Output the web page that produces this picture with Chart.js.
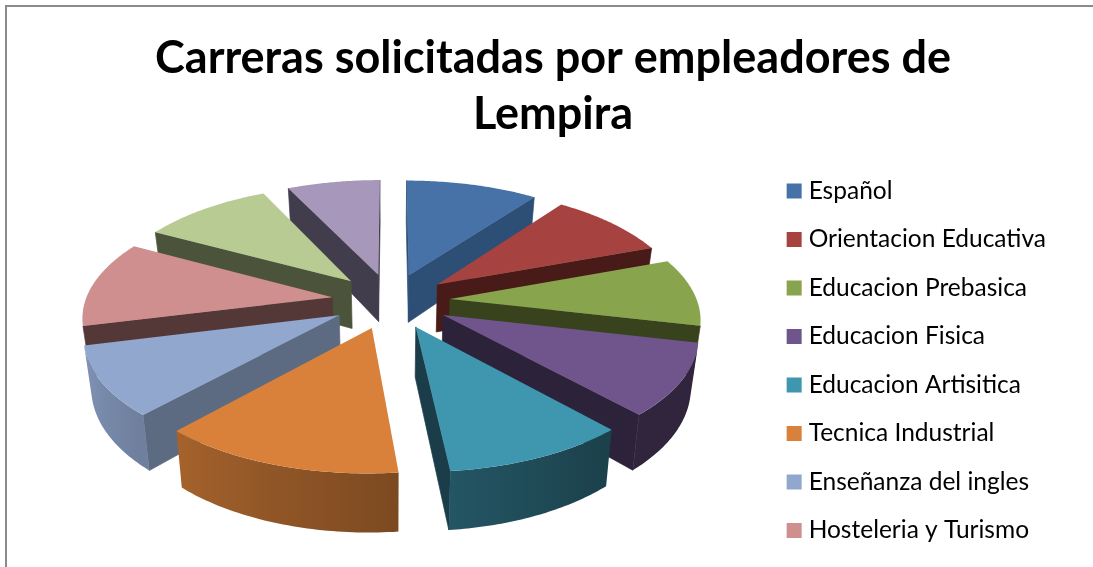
<!DOCTYPE html>
<html><head><meta charset="utf-8">
<style>html,body{margin:0;padding:0;background:#fff;overflow:hidden}canvas{display:block}</style>
<script src="https://cdn.jsdelivr.net/npm/chart.js@4"></script></head>
<body><canvas id="c" width="1093" height="567"></canvas>
<script>
const titleLines = ["Carreras solicitadas por empleadores de", "Lempira"];
const categories = ["Español","Orientacion Educativa","Educacion Prebasica","Educacion Fisica","Educacion Artisitica","Tecnica Industrial","Enseñanza del ingles","Hosteleria y Turismo","",""];
const values = [10.1,9.3,9.2,9.7,10.1,13.3,9.4,11.8,10,7.1];
const topColors = ["#4672A8","#A64340","#88A44C","#70558D","#3F96AF","#D9813A","#91A7CE","#CE8F8E","#B8CB92","#A797BB"];
const sideColors = ["#2D4F76","#481B18","#38421C","#2C223A","#1B3D49","#73461D","#5C6B82","#543838","#4B533A","#423D4D"];

const RADIUS = 200, OFFSET = 192;
const view = {dx:-18, dy:-60, A:247, B:115.4, p:0.146, depth:48.5, shrink:0.975};

function shade(hex, f){
  const n = parseInt(hex.slice(1),16);
  const c = s => Math.round(((n>>s)&255)*f);
  return `rgb(${c(16)},${c(8)},${c(0)})`;
}
function wallFactor(deg){
  const t = Math.min(1, Math.max(0,(deg-140)/116));
  return 0.43 + 0.47*t;
}
const pie3d = {
  id:'pie3d',
  beforeDatasetDraw(chart, args){
    const ctx = chart.ctx, meta = args.meta;
    const project = (el,u,v,low) => {
      const w = 1 - view.p*v, cx = el.x+view.dx, cy = el.y+view.dy;
      let X = view.A*u/w, Y = view.B*v/w;
      if(low){ X *= view.shrink; Y += view.depth/w; }
      return [cx+X, cy+Y];
    };
    const slices = meta.data.map((el,i)=>{
      const R = el.outerRadius, mid = (el.startAngle+el.endAngle)/2;
      const d = (el.options.offset/4)/R;
      const ox = d*Math.cos(mid), oy = d*Math.sin(mid);
      const n = 48, rim = [];
      for(let k=0;k<=n;k++){
        const a = el.startAngle+(el.endAngle-el.startAngle)*k/n;
        rim.push({a,u:ox+Math.cos(a),v:oy+Math.sin(a)});
      }
      return {el,i,ox,oy,rim,depth:oy+Math.sin(mid)*0.6};
    }).sort((s,t)=>s.depth-t.depth);
    const corners = (el,P,Q)=>[project(el,P.u,P.v,false),project(el,Q.u,Q.v,false),project(el,Q.u,Q.v,true),project(el,P.u,P.v,true)];
    const faces = pts=>{
      let area=0;
      pts.forEach((p,j)=>{const q=pts[(j+1)%pts.length];area+=p[0]*q[1]-q[0]*p[1];});
      return area<0;
    };
    const radial = (el,P,Q,fill)=>{
      const pts=corners(el,P,Q);
      if(!faces(pts)) return;
      ctx.beginPath();
      pts.forEach((p,j)=>j?ctx.lineTo(p[0],p[1]):ctx.moveTo(p[0],p[1]));
      ctx.closePath();
      ctx.fillStyle=fill;ctx.strokeStyle=fill;ctx.lineWidth=0.7;
      ctx.fill();ctx.stroke();
    };
    const rimWall = (s)=>{
      const top=s.el.options.backgroundColor;
      let run=[];
      const flush=()=>{
        if(run.length<2){run=[];return;}
        const upper=run.map(r=>project(s.el,r.u,r.v,false));
        const lower=run.map(r=>project(s.el,r.u,r.v,true));
        const xs=upper.map(p=>p[0]);
        const x0=Math.min(...xs),x1=Math.max(...xs);
        const g=ctx.createLinearGradient(x0,0,x1,0);
        run.forEach((r,j)=>{
          const deg=((r.a+Math.PI/2)*180/Math.PI+360)%360;
          g.addColorStop(Math.min(1,Math.max(0,(xs[j]-x0)/Math.max(1,x1-x0))),shade(top,wallFactor(deg)));
        });
        ctx.beginPath();
        upper.forEach((p,j)=>j?ctx.lineTo(p[0],p[1]):ctx.moveTo(p[0],p[1]));
        lower.reverse().forEach(p=>ctx.lineTo(p[0],p[1]));
        ctx.closePath();
        ctx.fillStyle=g;ctx.fill();
        run=[];
      };
      for(let k=0;k<s.rim.length-1;k++){
        if(faces(corners(s.el,s.rim[k],s.rim[k+1]))){
          if(!run.length) run.push(s.rim[k]);
          run.push(s.rim[k+1]);
        } else flush();
      }
      flush();
    };
    ctx.save();
    slices.forEach(s=>{
      const apex={u:s.ox,v:s.oy}, side=sideColors[s.i];
      radial(s.el,apex,s.rim[0],side);
      radial(s.el,s.rim[s.rim.length-1],apex,side);
      rimWall(s);
    });
    slices.forEach(s=>{
      ctx.beginPath();
      const a=project(s.el,s.ox,s.oy,false);
      ctx.moveTo(a[0],a[1]);
      s.rim.forEach(r=>{const p=project(s.el,r.u,r.v,false);ctx.lineTo(p[0],p[1]);});
      ctx.closePath();
      ctx.fillStyle=s.el.options.backgroundColor;
      ctx.fill();
    });
    ctx.restore();
    return false;
  }
};
const frame = {
  id:'frame',
  beforeDraw(chart){
    const ctx=chart.ctx;
    ctx.save();
    ctx.fillStyle='#fff';ctx.fillRect(0,0,chart.width,chart.height);
    ctx.strokeStyle='#8a8a8a';ctx.lineWidth=2;
    ctx.beginPath();ctx.moveTo(6,chart.height);ctx.lineTo(6,6);ctx.lineTo(chart.width,6);ctx.stroke();
    ctx.restore();
  }
};
new Chart(document.getElementById('c'),{
  type:'pie',
  data:{labels:categories,datasets:[{data:values,backgroundColor:topColors,borderWidth:0,offset:OFFSET}]},
  plugins:[frame,pie3d],
  options:{
    responsive:false,animation:false,radius:RADIUS,
    layout:{padding:{left:50,right:37,top:30,bottom:0}},
    plugins:{
      tooltip:{enabled:false},
      title:{display:true,text:titleLines,color:'#000',font:{family:'Lato',size:45,weight:'bold',lineHeight:1.25},padding:{top:0,bottom:12}},
      legend:{position:'right',fullSize:false,labels:{
        boxWidth:4.5,boxHeight:4.5,padding:24,color:'#000',font:{family:'Lato',size:24.5},
        filter:item=>item.text!=='',
        generateLabels:chart=>Chart.overrides.pie.plugins.legend.labels.generateLabels(chart)
          .map(item=>({...item,lineWidth:10.5,strokeStyle:item.fillStyle}))
      }}
    }
  }
});
</script></body></html>
